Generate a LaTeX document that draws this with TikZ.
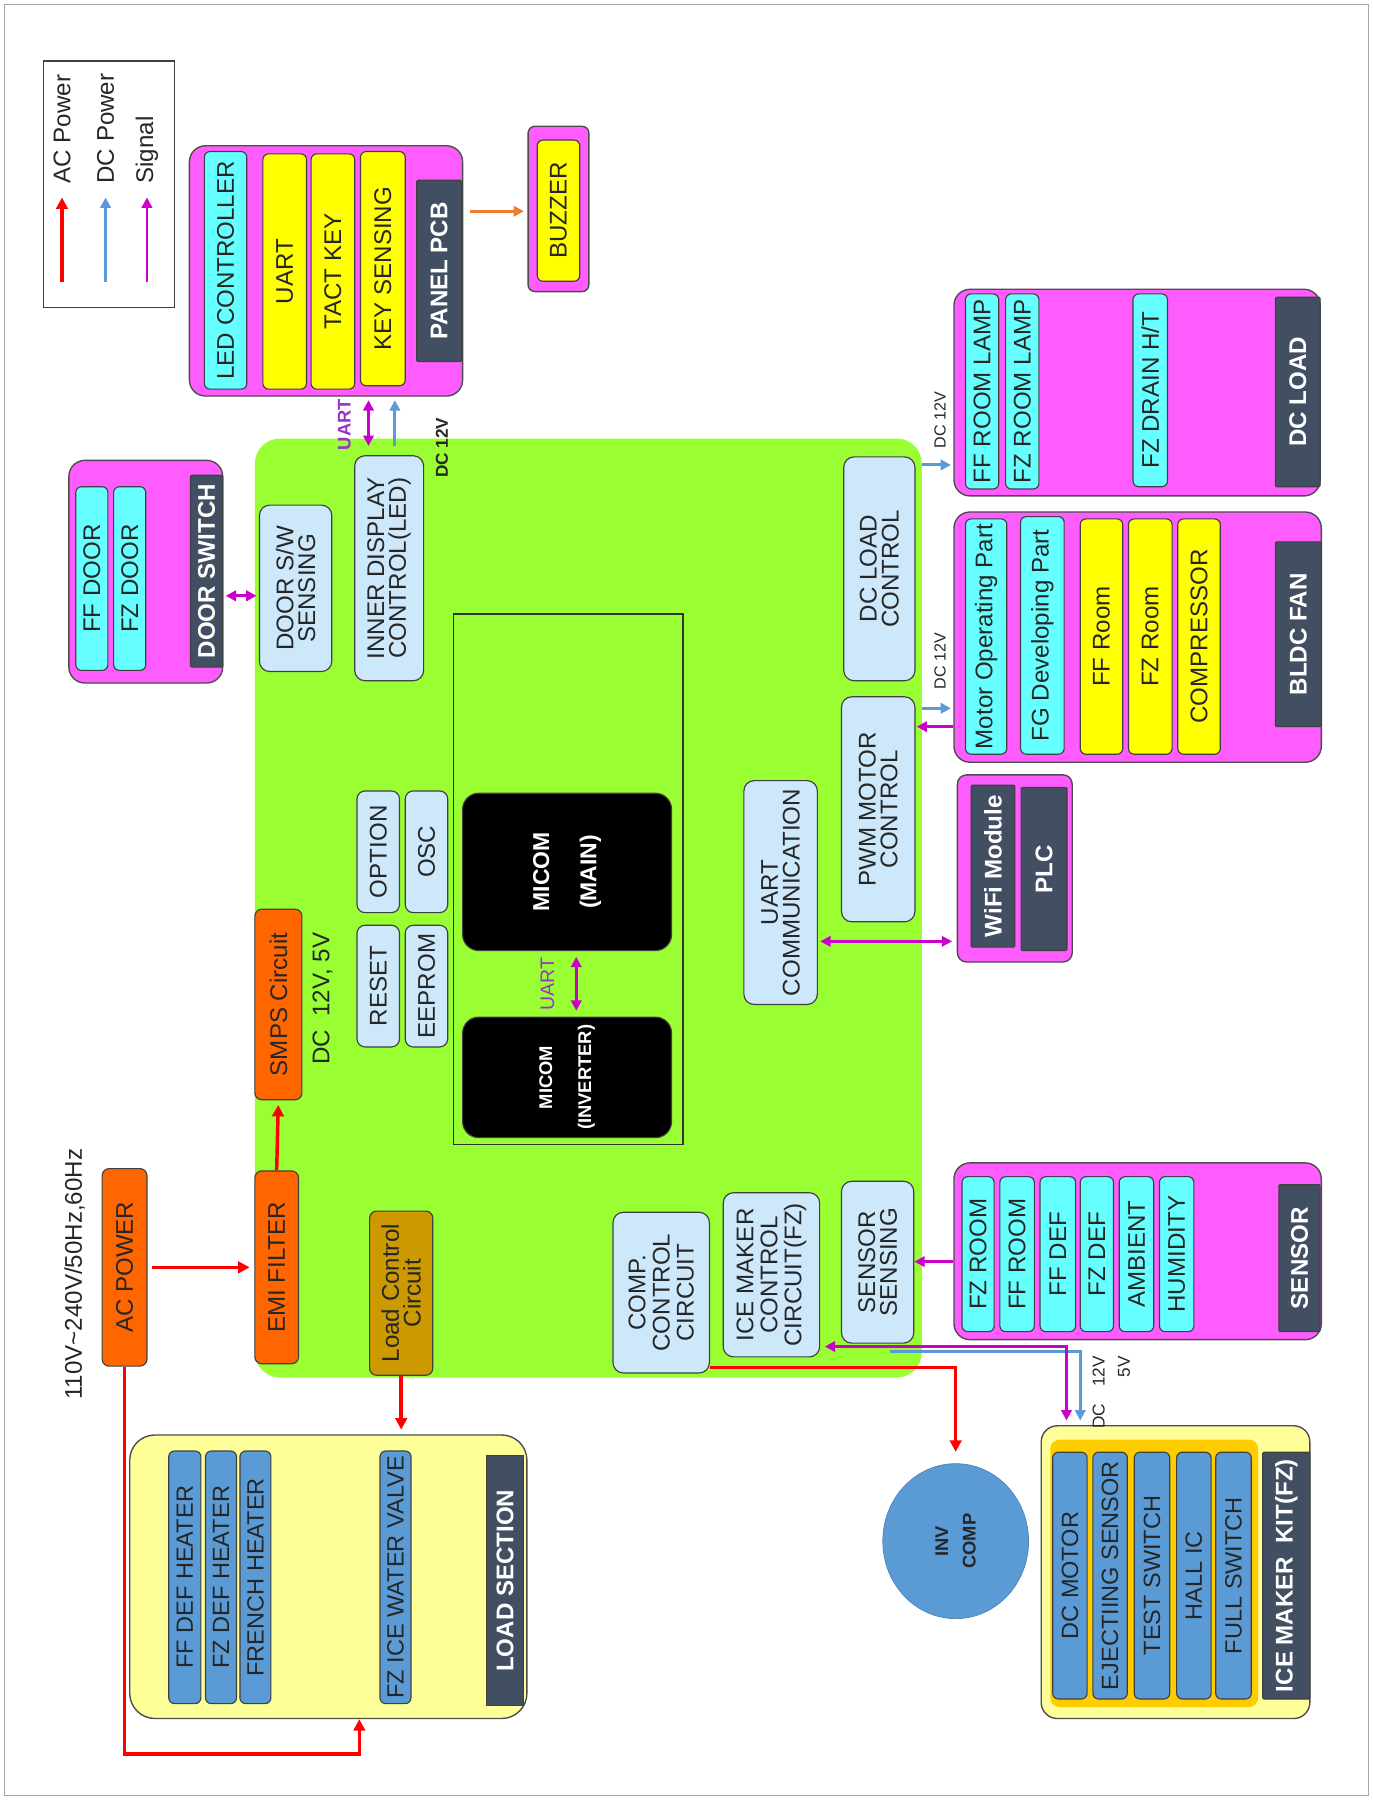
\documentclass[tikz,border=0pt]{standalone}
\usepackage{fontspec}
\setmainfont{Liberation Sans}
\usetikzlibrary{arrows.meta,shapes.geometric}

\definecolor{pinkgrp}{RGB}{255,92,255}
\definecolor{cyanbar}{RGB}{102,255,255}
\definecolor{yelbar}{RGB}{255,255,0}
\definecolor{slate}{RGB}{66,78,98}
\definecolor{boardgreen}{RGB}{153,255,51}
\definecolor{lightblue}{RGB}{204,232,250}
\definecolor{orangebox}{RGB}{255,102,0}
\definecolor{goldbox}{RGB}{204,153,0}
\definecolor{paleyel}{RGB}{255,255,153}
\definecolor{steel}{RGB}{91,155,213}
\definecolor{amber}{RGB}{255,204,0}
\definecolor{acred}{RGB}{255,0,0}
\definecolor{dcblue}{RGB}{91,155,213}
\definecolor{sigmag}{RGB}{204,0,204}
\definecolor{bzorange}{RGB}{237,125,49}
\definecolor{uartpurple}{RGB}{153,51,204}

\begin{document}
\begin{tikzpicture}[
  x=1pt, y=-1pt,
  bx/.style={draw=black!75, line width=1pt, rotate=90, inner sep=0pt,
             align=center, text=black!85, font=\fontsize{21}{19}\selectfont},
  grp/.style={draw=black!70, line width=1.2pt, fill=pinkgrp,
              rounded corners=14pt, inner sep=0pt},
  cbar/.style={bx, fill=cyanbar, rounded corners=5pt},
  ybar/.style={bx, fill=yelbar, rounded corners=5pt},
  hbar/.style={bx, fill=steel, rounded corners=5pt, font=\fontsize{20.5}{19}\selectfont},
  dbar/.style={bx, fill=slate, text=white, rounded corners=1pt,
               font=\bfseries\fontsize{21}{19}\selectfont},
  ctl/.style={bx, fill=lightblue, rounded corners=9pt},
  obox/.style={bx, fill=orangebox, rounded corners=6pt},
  mcu/.style={bx, fill=black, text=white, rounded corners=14pt},
  note/.style={rotate=90, inner sep=0pt, align=center, text=black!85,
               font=\fontsize{21}{19}\selectfont},
  tag/.style={note, font=\fontsize{14}{20}\selectfont},
  acarr/.style={-{Triangle[length=10pt,width=10pt]}, color=acred, line width=3pt},
  dcarr/.style={-{Triangle[length=9pt,width=9pt]}, color=dcblue, line width=2.5pt},
  sarr/.style={-{Triangle[length=9pt,width=9pt]}, color=sigmag, line width=2.5pt},
  sarr2/.style={{Triangle[length=9pt,width=9pt]}-{Triangle[length=9pt,width=9pt]},
                color=sigmag, line width=2.5pt},
  barr/.style={-{Triangle[length=9pt,width=9pt]}, color=bzorange, line width=2.5pt}
]

\useasboundingbox (0,0) rectangle (1196,1568);
\draw[gray!70, line width=1.2pt] (4,4) rectangle (1192,1564);

%% ── legend ──────────────────────────────────────────────────────────────
\node[draw=black!75, line width=1.2pt, minimum width=114pt, minimum height=215pt,
      inner sep=0pt] (legend) at (95,160.5) {};
\node[note, anchor=west] (legac)  at (54,160)  {AC Power};
\node[note, anchor=west] (legdc)  at (92,160)  {DC Power};
\node[note, anchor=west] (legsig) at (128,160) {Signal};
\draw[acarr] ([yshift=-86pt]legac.west)  -- ([yshift=-12pt]legac.west);
\draw[dcarr] ([yshift=-86pt]legdc.west)  -- ([yshift=-12pt]legdc.west);
\draw[sarr]  ([yshift=-86pt]legsig.west) -- ([yshift=-12pt]legsig.west);

%% ── main board ──────────────────────────────────────────────────────────
\node[fill=boardgreen, rounded corners=22pt, minimum width=581pt,
      minimum height=818pt, inner sep=0pt] (board) at (512.5,791) {};

\node[ctl, minimum width=145pt, minimum height=63pt] (dss)   at (257.5,512.5) {DOOR S/W\\SENSING};
\node[ctl, minimum width=196pt, minimum height=60pt] (idc)   at (339,495)     {INNER DISPLAY\\CONTROL(LED)};
\node[ctl, minimum width=195pt, minimum height=62pt] (dclc)  at (766,495.5)   {DC LOAD\\CONTROL};
\node[ctl, minimum width=196pt, minimum height=64pt] (pwm)   at (765,705)     {PWM MOTOR\\CONTROL};
\node[ctl, minimum width=195pt, minimum height=64pt] (uartc) at (680,777.5)   {UART\\COMMUNICATION};

\node[ctl, rounded corners=7pt, minimum width=106pt, minimum height=37pt] (opt) at (329.5,742) {OPTION};
\node[ctl, rounded corners=7pt, minimum width=106pt, minimum height=37pt] (osc) at (371.5,742) {OSC};
\node[ctl, rounded corners=7pt, minimum width=106pt, minimum height=37pt] (rst) at (329.5,859) {RESET};
\node[ctl, rounded corners=7pt, minimum width=106pt, minimum height=37pt] (eep) at (371.5,859) {EEPROM};

% micom block
\node[draw=black!80, line width=1.2pt, minimum width=200pt, minimum height=462pt,
      inner sep=0pt] (mcubox) at (495,766) {};
\node[mcu, minimum width=137pt, minimum height=182pt,
      font=\bfseries\fontsize{20}{41}\selectfont] (mmain) at (494,759.5) {MICOM\\(MAIN)};
\node[mcu, minimum width=105pt, minimum height=182pt,
      font=\bfseries\fontsize{16}{34}\selectfont] (minv) at (494,938.5) {MICOM\\(INVERTER)};
\node[note, text=uartpurple, font=\fontsize{17}{19}\selectfont] (lmuart) at (477,857) {UART};

% power side
\node[obox, minimum width=166pt, minimum height=41pt] (smps) at (242.5,875) {SMPS Circuit};
\node[note] (lsmps) at (281,870) {DC\ \ 12V, 5V};
\node[obox, minimum width=168pt, minimum height=38pt] (emi)  at (241,1104)  {EMI FILTER};
\node[bx, fill=goldbox, rounded corners=6pt, minimum width=143pt,
      minimum height=55pt] (lcc) at (349.5,1126.5) {Load Control\\Circuit};

% lower row
\node[ctl, minimum width=140pt, minimum height=84pt,
      font=\fontsize{21}{21}\selectfont] (ccc) at (576,1126)    {COMP.\\CONTROL\\CIRCUIT};
\node[ctl, minimum width=143pt, minimum height=84pt,
      font=\fontsize{21}{21}\selectfont] (imc) at (672,1110.5)  {ICE MAKER\\CONTROL\\CIRCUIT(FZ)};
\node[ctl, minimum width=141pt, minimum height=63pt] (sens) at (764.5,1099.5) {SENSOR\\SENSING};

%% ── outer blocks (left) ─────────────────────────────────────────────────
% panel pcb
\node[grp, minimum width=238pt, minimum height=218pt] (panel) at (284,236) {};
\node[cbar, minimum width=207pt, minimum height=37pt] (ledc)  at (196.5,235.5) {LED CONTROLLER};
\node[ybar, minimum width=205pt, minimum height=38pt] (uartk) at (248,236.5)   {UART};
\node[ybar, minimum width=205pt, minimum height=38pt] (tact)  at (290,236.5)   {TACT KEY};
\node[ybar, minimum width=204pt, minimum height=39pt] (keys)  at (333.5,234)   {KEY SENSING};
\node[dbar, minimum width=158pt, minimum height=39pt] (pcb)   at (382.5,236)   {PANEL PCB};

% buzzer
\node[grp, rounded corners=6pt, minimum width=53pt, minimum height=144pt] (bzr) at (486.5,182) {};
\node[ybar, minimum width=123pt, minimum height=37pt] (bzi) at (486.5,183.5) {BUZZER};

% door switch
\node[grp, minimum width=134pt, minimum height=194pt] (dsw) at (127,498) {};
\node[cbar, minimum width=160pt, minimum height=28pt] (ffd)  at (80,504)    {FF DOOR};
\node[cbar, minimum width=160pt, minimum height=28pt] (fzd)  at (113,504)   {FZ DOOR};
\node[dbar, minimum width=167pt, minimum height=28pt] (dswt) at (180,497.5) {DOOR SWITCH};

% ac input
\node[obox, minimum width=172pt, minimum height=39pt] (acp) at (108.5,1104) {AC POWER};
\node[note] (lac) at (65,1110) {110V\textasciitilde240V/50Hz,60Hz};

% load section
\node[grp, fill=paleyel, rounded corners=22pt, minimum width=346pt,
      minimum height=247pt] (lsec) at (286,1373.5) {};
\node[hbar, minimum width=220pt, minimum height=28pt] (ffdh) at (161,1374)   {FF DEF HEATER};
\node[hbar, minimum width=220pt, minimum height=27pt] (fzdh) at (192.5,1374) {FZ DEF HEATER};
\node[hbar, minimum width=220pt, minimum height=27pt] (frh)  at (222.5,1374) {FRENCH HEATER};
\node[hbar, minimum width=220pt, minimum height=27pt] (fzv)  at (344.5,1374) {FZ ICE WATER VALVE};
\node[dbar, rounded corners=0pt, minimum width=218pt, minimum height=32pt] (lsd) at (440,1377) {LOAD SECTION};

%% ── outer blocks (right) ────────────────────────────────────────────────
% dc load
\node[grp, minimum width=319pt, minimum height=180pt] (dcl) at (990.5,342) {};
\node[cbar, minimum width=170pt, minimum height=29pt] (ffrl) at (855.5,341)  {FF ROOM LAMP};
\node[cbar, minimum width=170pt, minimum height=29pt] (fzrl) at (890.5,341)  {FZ ROOM LAMP};
\node[cbar, minimum width=168pt, minimum height=30pt] (fzdr) at (1002,340)   {FZ DRAIN H/T};
\node[dbar, minimum width=165pt, minimum height=39pt] (dcld) at (1130.5,341.5) {DC LOAD};

% bldc fan
\node[grp, minimum width=320pt, minimum height=218pt] (fan) at (991,555) {};
\node[cbar, minimum width=205pt, minimum height=36pt] (mop)  at (859,554.5)    {Motor Operating Part};
\node[cbar, minimum width=207pt, minimum height=38pt] (fgd)  at (908,553.5)    {FG Developing Part};
\node[ybar, minimum width=205pt, minimum height=37pt] (ffr)  at (959.5,554.5)  {FF Room};
\node[ybar, minimum width=205pt, minimum height=38pt] (fzr)  at (1002,554.5)   {FZ Room};
\node[ybar, minimum width=205pt, minimum height=37pt] (cmp)  at (1044.5,554.5) {COMPRESSOR};
\node[dbar, minimum width=161pt, minimum height=40pt] (fand) at (1131,552.5)   {BLDC FAN};

% wifi
\node[grp, rounded corners=8pt, minimum width=100pt, minimum height=163pt] (wifi) at (884,756.5) {};
\node[dbar, minimum width=141pt, minimum height=38pt] (wfm) at (865,754.5) {WiFi Module};
\node[dbar, minimum width=142pt, minimum height=40pt] (plc) at (909.5,757) {PLC};

% sensor
\node[grp, minimum width=320pt, minimum height=154pt] (sen) at (991,1090) {};
\node[cbar, minimum width=135pt, minimum height=28pt] (fzro) at (852,1092.5)   {FZ ROOM};
\node[cbar, minimum width=135pt, minimum height=30pt] (ffro) at (886,1092.5)   {FF ROOM};
\node[cbar, minimum width=135pt, minimum height=31pt] (ffdf) at (921.5,1092.5) {FF DEF};
\node[cbar, minimum width=135pt, minimum height=29pt] (fzdf) at (955.5,1092.5) {FZ DEF};
\node[cbar, minimum width=135pt, minimum height=30pt] (amb)  at (990,1092.5)   {AMBIENT};
\node[cbar, minimum width=135pt, minimum height=30pt] (hum)  at (1025,1092.5)  {HUMIDITY};
\node[dbar, minimum width=128pt, minimum height=36pt] (send) at (1132,1096)    {SENSOR};

% ice maker kit
\node[grp, fill=paleyel, minimum width=234pt, minimum height=255pt] (kit) at (1024,1369.5) {};
\node[fill=amber, rounded corners=8pt, minimum width=181pt, minimum height=233pt,
      inner sep=0pt] (kitin) at (1005.5,1370.5) {};
\node[hbar, minimum width=215pt, minimum height=30pt] (dcm) at (932,1372.5)    {DC MOTOR};
\node[hbar, minimum width=215pt, minimum height=30pt] (ejs) at (967,1372.5)    {EJECTIING SENSOR};
\node[hbar, minimum width=215pt, minimum height=31pt] (tsw) at (1003.5,1372.5) {TEST SWITCH};
\node[hbar, minimum width=215pt, minimum height=30pt] (hic) at (1040,1372.5)   {HALL IC};
\node[hbar, minimum width=215pt, minimum height=31pt] (fsw) at (1074.5,1372.5) {FULL SWITCH};
\node[dbar, minimum width=215pt, minimum height=41pt] (kitd) at (1120.5,1372.5) {ICE MAKER\ \ KIT(FZ)};

% compressor
\node[ellipse, rotate=90, fill=steel, draw=steel!85!black, line width=0.6pt,
      minimum width=135pt, minimum height=127pt, inner sep=0pt, align=center,
      text=black!85, font=\bfseries\fontsize{16}{24}\selectfont] (inv) at (832.5,1342.5) {INV\\COMP};

%% ── labels ──────────────────────────────────────────────────────────────
\node[note, text=uartpurple, font=\bfseries\fontsize{16}{19}\selectfont] (luart) at (300,370) {UART};
\node[note, font=\bfseries\fontsize{15}{19}\selectfont] (ldc1) at (385,390) {DC 12V};
\node[tag] (ldc2) at (819,366) {DC 12V};
\node[tag] (ldc3) at (819,576) {DC 12V};
\node[tag, align=right, font=\fontsize{15}{22}\selectfont] (ldc4) at (968,1213) {DC\quad 12V\\5V};

%% ── edges ───────────────────────────────────────────────────────────────
% panel side
\draw[barr, shorten <=6pt, shorten >=3pt] (panel.east |- 0,184) -- (bzr.west |- 0,184);
\draw[sarr2, shorten <=8pt, shorten >=3pt] (idc.east -| 321,0) -- (panel.south -| 321,0);
\draw[dcarr, shorten <=8pt, shorten >=3pt] (idc.east -| 344,0) -- (panel.south -| 344,0);
\draw[sarr2, shorten <=2pt, shorten >=2pt] (dsw.east |- 0,519) -- (dss.north |- 0,519);
\draw[sarr2, shorten <=5pt, shorten >=5pt] (mmain.west -| 502,0) -- (minv.east -| 502,0);

% ac power
\draw[acarr, shorten <=4pt, shorten >=4pt] (acp) -- (emi);
\draw[acarr, shorten >=4pt] (emi.east) -- (smps.west);
\draw[acarr, shorten >=4pt] (lcc.west) -- (lcc.west |- lsec.north);
\draw[acarr] (acp.west) -- (acp.west |- 0,1528) -| (lsec.south -| 313,0);
\draw[acarr, shorten >=10pt] (ccc.south |- 0,1191) -| (inv.east);

% right side
\draw[dcarr, shorten >=2pt] (board.east |- 0,405) -- (dcl.west |- 0,405);
\draw[dcarr, shorten >=2pt] (board.east |- 0,617) -- (fan.west |- 0,617);
\draw[sarr, shorten >=1pt] (fan.west |- 0,633) -- (pwm.south |- 0,633);
\draw[sarr2, shorten <=2pt, shorten >=4pt] (uartc.south |- 0,820) -- (wifi.west |- 0,820);
\draw[sarr] (sen.west |- 0,1099) -- (sens.south |- 0,1099);

% ice maker
\coordinate (dcsrc) at (775,1177);
\draw[dcarr, shorten >=4pt] (dcsrc) -| (kit.north -| 941,0);
\draw[sarr2, shorten <=4pt, shorten >=4pt] (imc.south |- 0,1173) -| (kit.north -| 929,0);

\end{tikzpicture}
\end{document}
